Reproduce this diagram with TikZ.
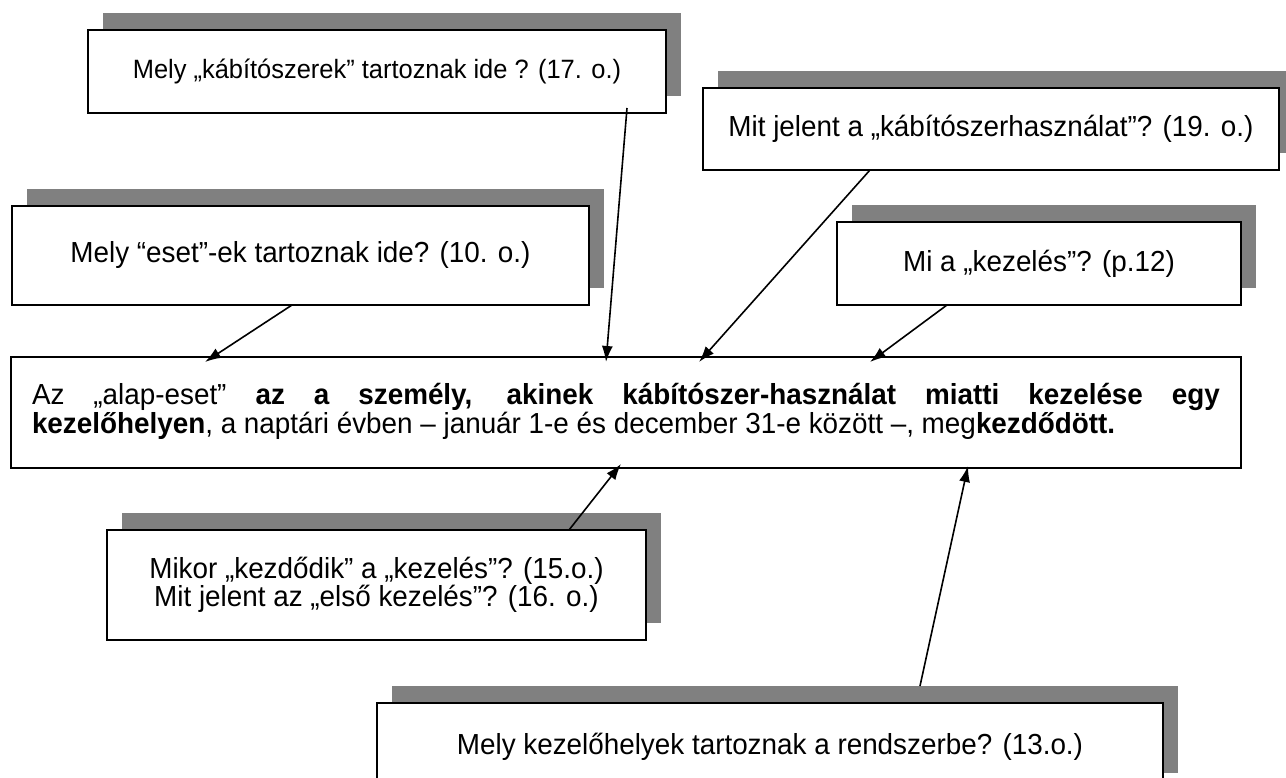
\documentclass[tikz,border=0pt]{standalone}
\usepackage{fontspec}
\setmainfont{Liberation Sans}[FakeStretch=0.96]
\usetikzlibrary{arrows.meta,shadows}

\newcommand\kerdesfont{\fontsize{29}{28}\selectfont\lineskiplimit=-30pt\relax}
\newcommand\alapfont{\fontsize{29}{29}\selectfont\lineskiplimit=-30pt\relax}

\tikzset{
  kerdes/.style={draw, line width=2.2pt, fill=white, align=center, inner sep=0pt,
    general shadow={fill=gray, shadow xshift=15pt, shadow yshift=17pt},
    font=\kerdesfont},
  alap/.style={draw, line width=2.2pt, fill=white, inner sep=0pt,
    font=\alapfont, text width=1188pt, align=justify}
}

\begin{document}
\begin{tikzpicture}[x=1pt,y=-1pt,>={Latex[length=16pt,width=11pt]},line width=1.6pt]
  \useasboundingbox (0,0) rectangle (1286,778);
  \clip (0,0) rectangle (1286,778);

  \node[kerdes, minimum width=578pt, minimum height=83pt,
        font=\fontsize{26.5}{28}\selectfont] (kabito) at (377,71.5)
        {Mely „kábítószerek” tartoznak ide ? (17. o.)};
  \node[kerdes, minimum width=577pt, minimum height=99pt]  (eset)    at (300.5,255.5)
        {Mely “eset”-ek tartoznak ide? (10. o.)};
  \node[kerdes, minimum width=576pt, minimum height=82pt]  (hasznal) at (991,129)
        {Mit jelent a „kábítószerhasználat”? (19. o.)};
  \node[kerdes, minimum width=404pt, minimum height=83pt]  (kezeles) at (1039,263.5)
        {Mi a „kezelés”? (p.12)};
  \node[alap, minimum width=1230pt, minimum height=111pt]  (alapeset) at (626,412.5)
        {Az „alap-eset” \textbf{az a személy, akinek kábítószer-használat miatti kezelése egy}\linebreak
         \textbf{kezelőhelyen}, a naptári évben – január 1-e és december 31-e között –, meg\textbf{kezdődött.}\strut\par\vspace{24pt}};
  \node[kerdes, minimum width=539pt, minimum height=110pt] (kezdet)  at (376.5,585)
        {Mikor „kezdődik” a „kezelés”? (15.o.)\\Mit jelent az „első kezelés”? (16. o.)};
  \node[kerdes, minimum width=786pt, minimum height=87pt]  (helyek)  at (770,746.5)
        {Mely kezelőhelyek tartoznak a rendszerbe? (13.o.)};

  % arrow ends
  \coordinate (s1) at (627,108);  \coordinate (t1) at (606,362);
  \coordinate (s2) at (292,305);  \coordinate (t2) at (205,362);
  \coordinate (s3) at (870,170);  \coordinate (t3) at (699,362);
  \coordinate (s4) at (947,305);  \coordinate (t4) at (870,362);
  \coordinate (s5) at (569,530);  \coordinate (t5) at (621,464);
  \coordinate (s6) at (920,686);  \coordinate (t6) at (968,466);

  \path[->] (s1) edge (t1)
            (s2) edge (t2)
            (s3) edge (t3)
            (s4) edge (t4)
            (s5) edge (t5)
            (s6) edge (t6);
\end{tikzpicture}
\end{document}
